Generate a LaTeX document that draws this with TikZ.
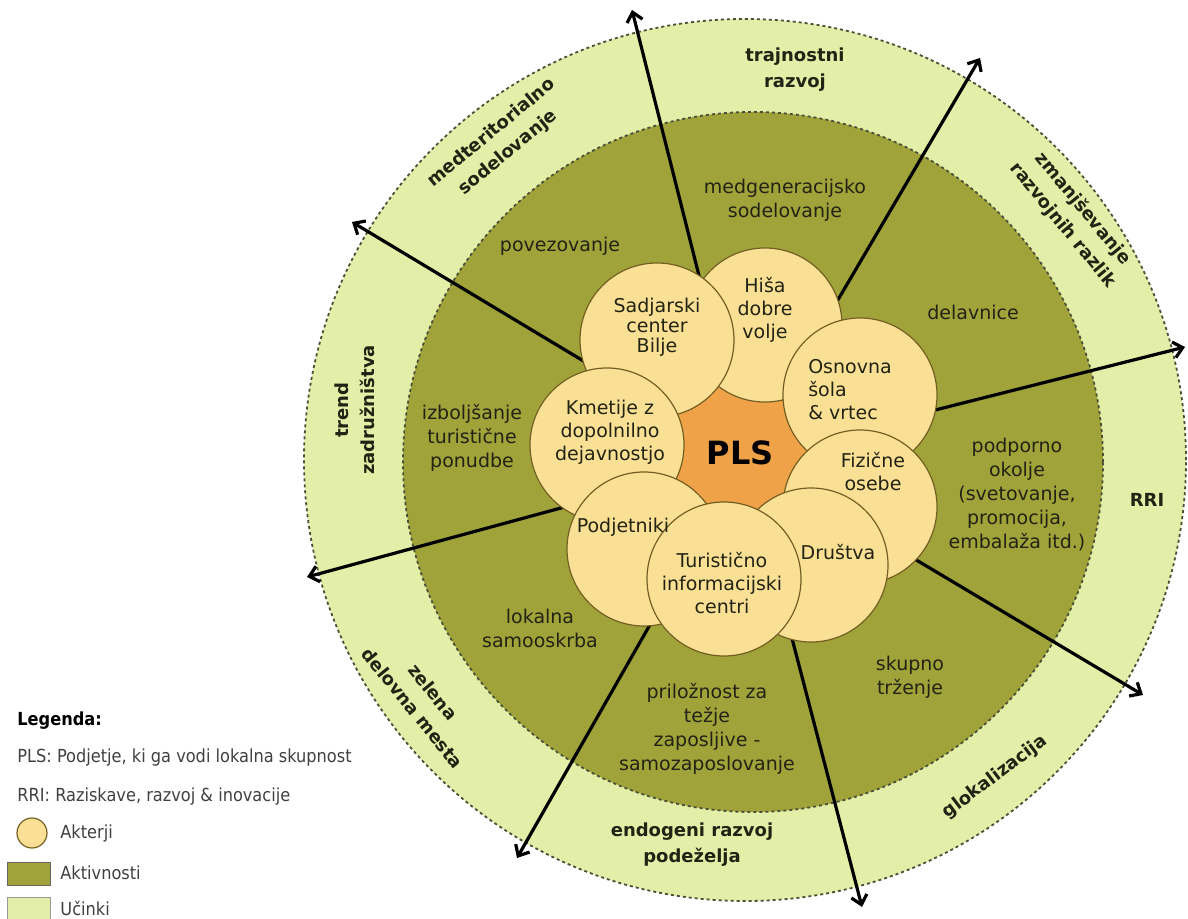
\documentclass[tikz,border=0pt]{standalone}
\usepackage{fontspec}
\setmainfont{DejaVu Sans}
\newfontfamily\legfont{DejaVu Sans Condensed}
\usetikzlibrary{arrows.meta}
\definecolor{ucinki}{RGB}{227,239,168}
\definecolor{aktivnosti}{RGB}{160,163,58}
\definecolor{akterfill}{RGB}{249,224,148}
\definecolor{akterrob}{RGB}{115,95,35}
\definecolor{plsorange}{RGB}{240,162,72}
\definecolor{crta}{RGB}{75,80,55}
\definecolor{tekst}{RGB}{35,35,20}

\begin{document}
\begin{tikzpicture}[x=0.5pt,y=-0.5pt,
	akter/.style={circle,draw=akterrob,fill=akterfill,line width=0.6pt,minimum size=77pt,inner sep=0pt},
	akternapis/.style={align=center,inner sep=0pt,font=\fontsize{9.5}{11.5}\selectfont,text=tekst},
	aktivnost/.style={align=center,inner sep=0pt,font=\fontsize{9.5}{12}\selectfont,text=tekst},
	ucinek/.style={align=center,inner sep=0pt,font=\bfseries\fontsize{9}{13}\selectfont,text=tekst},
	puscica/.style={line width=1.6pt,-{Straight Barb[length=4.5pt,width=8pt]}},
	rob/.style={draw=crta,line width=0.9pt,dash pattern=on 1.5pt off 1.5pt},
	legenda/.style={anchor=west,inner sep=0pt,font=\legfont\fontsize{9}{10}\selectfont,text=black!75}]
	\useasboundingbox (0,0) rectangle (1188,919);
	% obroci
	\fill[ucinki] (745,460) circle [radius=220.5pt];
	\draw[rob] (745,460) circle [radius=220.5pt];
	\fill[aktivnosti] (753,462) circle [radius=175pt];
	\draw[rob] (753,462) circle [radius=175pt];
	% puscice
	\coordinate (hub) at (745,458);
	\coordinate (k1) at (632,10);
	\coordinate (k2) at (980,58);
	\coordinate (k3) at (352,222);
	\coordinate (k4) at (1185,347);
	\coordinate (k5) at (307,577);
	\coordinate (k6) at (1143,695);
	\coordinate (k7) at (517,858);
	\coordinate (k8) at (862,907);
	\foreach \k in {k1,k2,k3,k4,k5,k6,k7,k8}
		\draw[puscica] (hub) -- (\k);
	% PLS in akterji
	\fill[plsorange] (740,452) circle [radius=45pt];
	\node[akter] (hisa) at (765,325) {};
	\node[akter] (sadjarski) at (657,340) {};
	\node[akter] (osnovna) at (860,395) {};
	\node[akter] (kmetije) at (607,445) {};
	\node[akter] (fizicne) at (860,507) {};
	\node[akter] (podjetniki) at (644,549) {};
	\node[akter] (drustva) at (811,565) {};
	\node[akter] (turisticno) at (724,579) {};
	\node[font=\bfseries\fontsize{16}{16}\selectfont] (pls) at (740,453) {PLS};
	\node[akternapis,font=\fontsize{9.5}{10}\selectfont] (sadjarski-t) at (657,327) {Sadjarski\\center\\Bilje};
	\node[akternapis] (hisa-t) at (765,310) {Hiša\\dobre\\volje};
	\node[akternapis,align=left] (osnovna-t) at (850,390) {Osnovna\\šola\\\& vrtec};
	\node[akternapis] (fizicne-t) at (873,472) {Fizične\\osebe};
	\node[akternapis] (drustva-t) at (838,552) {Društva};
	\node[akternapis] (turisticno-t) at (722,583) {Turistično\\informacijski\\centri};
	\node[akternapis] (podjetniki-t) at (623,527) {Podjetniki};
	\node[akternapis] (kmetije-t) at (610,432) {Kmetije z\\dopolnilno\\dejavnostjo};
	% aktivnosti
	\node[aktivnost] (medgen) at (785,200) {medgeneracijsko\\sodelovanje};
	\node[aktivnost] (povez) at (560,246) {povezovanje};
	\node[aktivnost] (delav) at (973,312) {delavnice};
	\node[aktivnost] (izbolj) at (472,438) {izboljšanje\\turistične\\ponudbe};
	\node[aktivnost] (podpor) at (1017,495) {podporno\\okolje\\(svetovanje,\\promocija,\\embalaža itd.)};
	\node[aktivnost] (lokal) at (540,628) {lokalna\\samooskrba};
	\node[aktivnost] (skupno) at (910,677) {skupno\\trženje};
	\node[aktivnost] (prilozn) at (707,729) {priložnost za\\težje\\zaposljive -\\samozaposlovanje};
	% ucinki
	\node[ucinek] (trajn) at (795,70) {trajnostni\\razvoj};
	\node[ucinek,rotate=39.5] (medter) at (500,143) {medteritorialno\\sodelovanje};
	\node[ucinek,rotate=-50.5] (zmanj) at (1073,217) {zmanjševanje\\razvojnih razlik};
	\node[ucinek,rotate=90] (trend) at (355,410) {trend\\zadružništva};
	\node[ucinek] (rri) at (1147,500) {RRI};
	\node[ucinek,rotate=37] (glokal) at (995,777) {glokalizacija};
	\node[ucinek] (endog) at (692,845) {endogeni razvoj\\podeželja};
	\node[ucinek,rotate=-51] (zelena) at (423,700) {zelena\\delovna mesta};
	% legenda
	\node[legenda,text=black,font=\legfont\bfseries\fontsize{9}{10}\selectfont] (leg) at (17,721) {Legenda:};
	\node[legenda] (leg-pls) at (17,758) {PLS: Podjetje, ki ga vodi lokalna skupnost};
	\node[legenda] (leg-rri) at (17,797) {RRI: Raziskave, razvoj \& inovacije};
	\node[akter,minimum size=15pt] (leg-akter) at (32,833) {};
	\node[draw=black!60,fill=aktivnosti,minimum width=21.5pt,minimum height=11.5pt,inner sep=0pt] (leg-akt) at (28.5,873.5) {};
	\node[draw=black!40,fill=ucinki,minimum width=21.5pt,minimum height=11.5pt,inner sep=0pt] (leg-uc) at (28.5,908.5) {};
	\node[legenda] (leg-akter-t) at (60,834) {Akterji};
	\node[legenda] (leg-akt-t) at (60,873) {Aktivnosti};
	\node[legenda] (leg-uc-t) at (60,908) {Učinki};
\end{tikzpicture}
\end{document}
